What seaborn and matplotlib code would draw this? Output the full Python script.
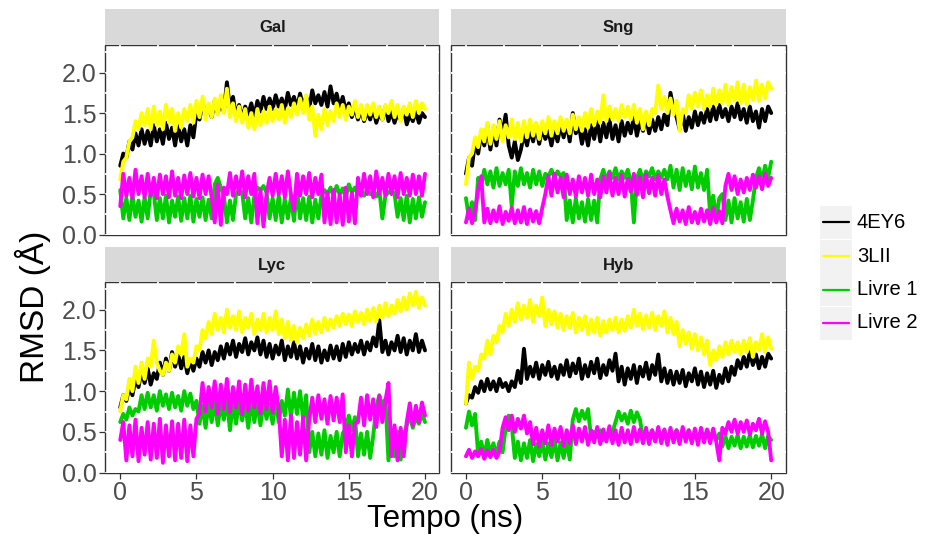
import numpy as np
import pandas as pd
import matplotlib
matplotlib.use("Agg")
import matplotlib.pyplot as plt
import seaborn as sns
from matplotlib.patches import Rectangle
from matplotlib.lines import Line2D

# ---------------------------------------------------------------------
# data (one value every 0.2 ns, 0..20 ns)
# ---------------------------------------------------------------------
tempo = np.linspace(0, 20, 101)

paineis = ["Gal", "Sng", "Lyc", "Hyb"]
estruturas = ["4EY6", "3LII", "Livre 1", "Livre 2"]
cores = ["#000000", "#FFFF00", "#00CC00", "#FF00FF"]

gal_4ey6 = [0.85, 1.00, 0.95, 1.15, 1.05, 1.25, 1.10, 1.30, 1.12, 1.28,
            1.10, 1.35, 1.15, 1.30, 1.12, 1.38, 1.18, 1.32, 1.10, 1.35,
            1.15, 1.30, 1.10, 1.35, 1.20, 1.50, 1.42, 1.62, 1.48, 1.58,
            1.45, 1.65, 1.50, 1.62, 1.52, 1.88, 1.55, 1.70, 1.45, 1.60,
            1.42, 1.58, 1.48, 1.62, 1.45, 1.65, 1.52, 1.70, 1.55, 1.68,
            1.55, 1.72, 1.58, 1.68, 1.55, 1.75, 1.60, 1.70, 1.56, 1.74,
            1.58, 1.70, 1.55, 1.78, 1.62, 1.72, 1.60, 1.76, 1.58, 1.83,
            1.62, 1.74, 1.56, 1.70, 1.52, 1.62, 1.45, 1.58, 1.42, 1.55,
            1.40, 1.52, 1.42, 1.56, 1.38, 1.50, 1.42, 1.58, 1.40, 1.52,
            1.38, 1.50, 1.42, 1.55, 1.36, 1.48, 1.40, 1.52, 1.38, 1.50,
            1.45]
gal_3lii = [0.68, 0.90, 0.95, 1.15, 1.20, 1.40, 1.30, 1.50, 1.35, 1.55,
            1.30, 1.58, 1.35, 1.52, 1.30, 1.60, 1.38, 1.55, 1.28, 1.50,
            1.32, 1.55, 1.40, 1.60, 1.38, 1.65, 1.45, 1.70, 1.42, 1.62,
            1.45, 1.68, 1.48, 1.72, 1.50, 1.80, 1.45, 1.62, 1.40, 1.58,
            1.38, 1.55, 1.32, 1.50, 1.30, 1.55, 1.35, 1.52, 1.38, 1.58,
            1.40, 1.55, 1.42, 1.60, 1.38, 1.56, 1.45, 1.62, 1.48, 1.68,
            1.50, 1.72, 1.42, 1.58, 1.22, 1.48, 1.30, 1.55, 1.35, 1.52,
            1.40, 1.62, 1.45, 1.60, 1.42, 1.58, 1.48, 1.65, 1.45, 1.60,
            1.42, 1.60, 1.48, 1.62, 1.45, 1.58, 1.42, 1.60, 1.50, 1.65,
            1.45, 1.60, 1.40, 1.58, 1.48, 1.62, 1.45, 1.65, 1.50, 1.62,
            1.55]
gal_livre1 = [0.55, 0.20, 0.45, 0.18, 0.48, 0.22, 0.42, 0.16, 0.46, 0.20,
              0.55, 0.52, 0.18, 0.45, 0.20, 0.48, 0.15, 0.42, 0.22, 0.47,
              0.17, 0.45, 0.20, 0.48, 0.16, 0.44, 0.22, 0.46, 0.18, 0.43,
              0.20, 0.62, 0.70, 0.58, 0.48, 0.15, 0.42, 0.18, 0.50, 0.55,
              0.52, 0.20, 0.45, 0.15, 0.48, 0.58, 0.55, 0.60, 0.52, 0.20,
              0.45, 0.18, 0.48, 0.15, 0.44, 0.20, 0.46, 0.17, 0.55, 0.20,
              0.45, 0.18, 0.47, 0.15, 0.43, 0.20, 0.48, 0.55, 0.50, 0.58,
              0.48, 0.60, 0.50, 0.57, 0.46, 0.62, 0.52, 0.58, 0.50, 0.55,
              0.48, 0.55, 0.50, 0.53, 0.47, 0.55, 0.20, 0.48, 0.52, 0.55,
              0.50, 0.22, 0.45, 0.18, 0.48, 0.15, 0.44, 0.20, 0.46, 0.22,
              0.40]
gal_livre2 = [0.35, 0.75, 0.48, 0.70, 0.45, 0.80, 0.50, 0.72, 0.46, 0.75,
              0.48, 0.70, 0.45, 0.74, 0.50, 0.72, 0.46, 0.78, 0.48, 0.70,
              0.45, 0.73, 0.50, 0.76, 0.47, 0.70, 0.45, 0.74, 0.50, 0.72,
              0.46, 0.15, 0.62, 0.12, 0.58, 0.50, 0.76, 0.48, 0.72, 0.50,
              0.78, 0.46, 0.72, 0.50, 0.75, 0.14, 0.55, 0.10, 0.50, 0.70,
              0.48, 0.75, 0.50, 0.72, 0.46, 0.78, 0.50, 0.30, 0.75, 0.48,
              0.72, 0.50, 0.76, 0.46, 0.70, 0.50, 0.74, 0.15, 0.52, 0.13,
              0.55, 0.15, 0.50, 0.12, 0.58, 0.16, 0.52, 0.14, 0.70, 0.48,
              0.75, 0.50, 0.72, 0.46, 0.78, 0.50, 0.70, 0.48, 0.75, 0.50,
              0.72, 0.46, 0.76, 0.50, 0.70, 0.48, 0.74, 0.50, 0.72, 0.48,
              0.75]

sng_4ey6 = [0.75, 0.95, 0.85, 1.15, 1.00, 1.25, 1.10, 1.35, 1.05, 1.30,
            1.10, 1.42, 1.25, 1.48, 1.10, 0.95, 1.15, 0.92, 1.05, 1.25,
            1.10, 1.30, 1.15, 1.35, 1.12, 1.32, 1.18, 1.28, 1.10, 1.30,
            1.15, 1.35, 1.20, 1.38, 1.15, 1.50, 1.25, 1.35, 1.12, 1.30,
            1.10, 1.35, 1.18, 1.40, 1.15, 1.38, 1.20, 1.42, 1.18, 1.35,
            1.15, 1.40, 1.22, 1.38, 1.25, 1.45, 1.22, 1.40, 1.28, 1.45,
            1.25, 1.42, 1.28, 1.45, 1.30, 1.48, 1.35, 1.75, 1.55, 1.45,
            1.30, 1.50, 1.28, 1.45, 1.32, 1.52, 1.35, 1.50, 1.38, 1.55,
            1.40, 1.58, 1.42, 1.60, 1.45, 1.55, 1.40, 1.58, 1.45, 1.62,
            1.42, 1.55, 1.38, 1.58, 1.40, 1.52, 1.32, 1.55, 1.40, 1.58,
            1.50]
sng_3lii = [0.62, 0.95, 1.00, 1.20, 1.08, 1.30, 1.15, 1.38, 1.12, 1.35,
            1.18, 1.40, 1.15, 1.35, 1.20, 1.42, 1.18, 1.38, 1.15, 1.40,
            1.20, 1.42, 1.22, 1.38, 1.18, 1.40, 1.25, 1.45, 1.22, 1.40,
            1.25, 1.45, 1.28, 1.42, 1.25, 1.48, 1.30, 1.45, 1.28, 1.50,
            1.32, 1.55, 1.35, 1.52, 1.38, 1.72, 1.40, 1.58, 1.42, 1.55,
            1.40, 1.60, 1.45, 1.58, 1.42, 1.60, 1.38, 1.55, 1.30, 1.52,
            1.35, 1.55, 1.50, 1.84, 1.55, 1.70, 1.50, 1.68, 1.48, 1.65,
            1.28, 1.55, 1.50, 1.72, 1.55, 1.75, 1.58, 1.78, 1.55, 1.72,
            1.58, 1.80, 1.60, 1.78, 1.62, 1.85, 1.60, 1.82, 1.65, 1.88,
            1.62, 1.85, 1.60, 1.82, 1.66, 1.90, 1.65, 1.85, 1.68, 1.88,
            1.80]
sng_livre1 = [0.45, 0.20, 0.40, 0.18, 0.70, 0.60, 0.80, 0.62, 0.78, 0.58,
              0.82, 0.60, 0.76, 0.62, 0.80, 0.35, 0.78, 0.60, 0.82, 0.62,
              0.76, 0.58, 0.80, 0.62, 0.78, 0.60, 0.75, 0.72, 0.80, 0.70,
              0.78, 0.72, 0.76, 0.18, 0.42, 0.15, 0.45, 0.20, 0.40, 0.16,
              0.44, 0.18, 0.42, 0.15, 0.68, 0.80, 0.66, 0.78, 0.70, 0.82,
              0.68, 0.78, 0.70, 0.80, 0.66, 0.15, 0.70, 0.80, 0.66, 0.78,
              0.72, 0.82, 0.68, 0.78, 0.70, 0.80, 0.68, 0.85, 0.58, 0.80,
              0.55, 0.82, 0.60, 0.78, 0.56, 0.84, 0.58, 0.76, 0.55, 0.80,
              0.25, 0.48, 0.20, 0.45, 0.50, 0.18, 0.42, 0.15, 0.45, 0.20,
              0.40, 0.16, 0.44, 0.18, 0.42, 0.70, 0.82, 0.66, 0.85, 0.70,
              0.90]
sng_livre2 = [0.15, 0.32, 0.14, 0.30, 0.55, 0.72, 0.15, 0.32, 0.14, 0.30,
              0.16, 0.35, 0.13, 0.28, 0.17, 0.33, 0.14, 0.30, 0.15, 0.34,
              0.13, 0.31, 0.16, 0.29, 0.14, 0.33, 0.50, 0.72, 0.48, 0.75,
              0.52, 0.70, 0.46, 0.74, 0.50, 0.68, 0.47, 0.72, 0.52, 0.70,
              0.48, 0.74, 0.50, 0.68, 0.46, 0.72, 0.52, 0.76, 0.48, 0.70,
              0.50, 0.73, 0.47, 0.69, 0.53, 0.75, 0.49, 0.71, 0.46, 0.74,
              0.51, 0.70, 0.48, 0.73, 0.50, 0.68, 0.47, 0.30, 0.14, 0.32,
              0.16, 0.30, 0.13, 0.34, 0.15, 0.28, 0.14, 0.32, 0.16, 0.30,
              0.13, 0.33, 0.15, 0.29, 0.14, 0.60, 0.75, 0.55, 0.72, 0.50,
              0.68, 0.52, 0.70, 0.55, 0.74, 0.58, 0.72, 0.56, 0.75, 0.60,
              0.70]

lyc_4ey6 = [0.80, 0.95, 0.88, 1.05, 0.95, 1.15, 1.05, 1.25, 1.10, 1.28,
            1.08, 1.22, 1.15, 1.35, 1.20, 1.40, 1.25, 1.48, 1.30, 1.45,
            1.28, 1.42, 1.22, 1.38, 1.25, 1.40, 1.30, 1.48, 1.35, 1.50,
            1.32, 1.48, 1.38, 1.55, 1.40, 1.58, 1.45, 1.62, 1.42, 1.58,
            1.48, 1.65, 1.45, 1.60, 1.50, 1.66, 1.45, 1.62, 1.42, 1.58,
            1.40, 1.56, 1.45, 1.62, 1.38, 1.55, 1.42, 1.60, 1.40, 1.55,
            1.35, 1.52, 1.40, 1.58, 1.38, 1.55, 1.35, 1.50, 1.38, 1.56,
            1.40, 1.55, 1.38, 1.58, 1.42, 1.60, 1.45, 1.58, 1.48, 1.62,
            1.45, 1.60, 1.50, 1.66, 1.55, 1.87, 1.48, 1.62, 1.45, 1.60,
            1.50, 1.68, 1.48, 1.65, 1.45, 1.62, 1.50, 1.70, 1.48, 1.62,
            1.50]
lyc_3lii = [0.75, 0.95, 0.90, 1.15, 1.00, 1.30, 1.10, 1.35, 1.15, 1.40,
            1.30, 1.62, 1.35, 1.25, 1.20, 1.35, 1.25, 1.45, 1.35, 1.55,
            1.45, 1.70, 1.30, 1.40, 1.35, 1.55, 1.50, 1.75, 1.65, 1.85,
            1.70, 1.95, 1.75, 1.90, 1.72, 2.00, 1.78, 1.92, 1.75, 1.98,
            1.72, 1.90, 1.78, 1.95, 1.70, 1.88, 1.75, 1.95, 1.72, 1.90,
            1.75, 1.98, 1.70, 1.88, 1.65, 1.85, 1.62, 1.80, 1.60, 1.78,
            1.65, 1.82, 1.68, 1.88, 1.70, 1.85, 1.72, 1.90, 1.75, 1.88,
            1.78, 1.92, 1.80, 1.95, 1.82, 1.94, 1.80, 1.98, 1.85, 1.96,
            1.82, 2.00, 1.86, 2.02, 1.85, 2.05, 1.90, 2.08, 1.92, 2.05,
            1.95, 2.12, 1.98, 2.15, 2.00, 2.20, 2.05, 2.22, 2.02, 2.15,
            2.05]
lyc_livre1 = [0.62, 0.72, 0.65, 0.80, 0.70, 0.78, 0.75, 0.95, 0.78, 0.98,
              0.80, 0.95, 0.76, 1.00, 0.82, 0.96, 0.78, 0.98, 0.80, 0.94,
              0.76, 1.00, 0.82, 0.97, 0.78, 0.88, 0.60, 0.82, 0.55, 0.85,
              0.62, 0.88, 0.58, 0.84, 0.65, 0.90, 0.52, 0.86, 0.60, 0.88,
              0.64, 0.85, 0.55, 0.90, 0.62, 0.86, 0.58, 0.88, 0.66, 0.84,
              0.60, 0.90, 0.62, 0.88, 0.70, 1.02, 0.68, 0.98, 0.72, 1.00,
              0.66, 0.95, 0.25, 0.50, 0.20, 0.48, 0.22, 0.52, 0.18, 0.45,
              0.25, 0.50, 0.20, 0.48, 0.55, 0.70, 0.52, 0.68, 0.20, 0.48,
              0.22, 0.50, 0.18, 0.45, 0.80, 0.95, 0.82, 0.90, 0.15, 0.48,
              0.20, 0.50, 0.16, 0.45, 0.58, 0.70, 0.55, 0.68, 0.60, 0.72,
              0.62]
lyc_livre2 = [0.40, 0.62, 0.15, 0.58, 0.20, 0.65, 0.14, 0.55, 0.22, 0.62,
              0.16, 0.60, 0.18, 0.66, 0.12, 0.58, 0.20, 0.63, 0.15, 0.60,
              0.18, 0.65, 0.14, 0.58, 0.20, 0.66, 0.72, 1.10, 0.75, 1.05,
              0.80, 1.12, 0.72, 1.08, 0.78, 1.15, 0.74, 1.05, 0.80, 1.12,
              0.72, 1.08, 0.76, 1.14, 0.80, 1.06, 0.73, 1.10, 0.78, 1.12,
              0.74, 1.05, 0.78, 0.20, 0.65, 0.15, 0.70, 0.18, 0.62, 0.22,
              0.68, 0.15, 0.65, 0.92, 0.62, 0.95, 0.66, 0.90, 0.60, 0.94,
              0.64, 0.92, 0.62, 0.96, 0.25, 0.58, 0.20, 0.60, 0.62, 0.92,
              0.58, 0.95, 0.65, 0.90, 0.56, 0.94, 0.62, 0.88, 1.10, 0.20,
              0.58, 0.15, 0.55, 0.20, 0.62, 0.85, 0.58, 0.82, 0.62, 0.86,
              0.70]

hyb_4ey6 = [0.85, 0.95, 0.92, 1.05, 0.98, 1.12, 1.00, 1.15, 1.02, 1.12,
            1.00, 1.15, 1.05, 1.10, 1.00, 1.12, 1.05, 1.25, 1.10, 1.52,
            1.15, 1.30, 1.18, 1.35, 1.15, 1.32, 1.20, 1.36, 1.18, 1.30,
            1.15, 1.32, 1.20, 1.38, 1.18, 1.34, 1.22, 1.40, 1.15, 1.32,
            1.18, 1.36, 1.22, 1.40, 1.16, 1.32, 1.20, 1.38, 1.25, 1.46,
            1.12, 1.30, 1.08, 1.28, 1.15, 1.32, 1.10, 1.30, 1.18, 1.35,
            1.15, 1.32, 1.20, 1.45, 1.12, 1.28, 1.10, 1.25, 1.08, 1.24,
            1.10, 1.26, 1.06, 1.22, 1.12, 1.28, 1.08, 1.24, 1.05, 1.22,
            1.08, 1.25, 1.04, 1.20, 1.10, 1.28, 1.12, 1.30, 1.20, 1.38,
            1.28, 1.42, 1.30, 1.48, 1.32, 1.45, 1.28, 1.42, 1.30, 1.46,
            1.40]
hyb_3lii = [0.85, 1.35, 1.15, 1.30, 1.25, 1.45, 1.40, 1.62, 1.45, 1.68,
            1.60, 1.80, 1.72, 1.95, 1.80, 2.00, 1.85, 2.08, 1.88, 2.05,
            1.90, 2.12, 1.85, 2.05, 1.92, 2.15, 1.80, 2.00, 1.82, 1.98,
            1.78, 1.95, 1.75, 1.92, 1.78, 1.96, 1.72, 1.90, 1.75, 1.92,
            1.70, 1.88, 1.72, 1.90, 1.68, 1.86, 1.72, 1.88, 1.75, 1.90,
            1.72, 1.88, 1.74, 1.92, 1.78, 2.00, 1.80, 1.95, 1.76, 1.93,
            1.78, 1.96, 1.75, 1.92, 1.80, 1.98, 1.72, 1.90, 1.70, 1.85,
            1.55, 1.75, 1.58, 1.72, 1.52, 1.70, 1.50, 1.66, 1.45, 1.62,
            1.32, 1.50, 1.38, 1.55, 1.42, 1.60, 1.45, 1.62, 1.48, 1.60,
            1.45, 1.62, 1.48, 1.65, 1.42, 1.60, 1.50, 1.70, 1.48, 1.66,
            1.52]
hyb_livre1 = [0.55, 0.75, 0.58, 0.72, 0.22, 0.38, 0.20, 0.40, 0.24, 0.36,
              0.21, 0.38, 0.25, 0.55, 0.70, 0.58, 0.18, 0.38, 0.15, 0.36,
              0.18, 0.40, 0.14, 0.35, 0.20, 0.38, 0.16, 0.36, 0.19, 0.40,
              0.15, 0.37, 0.18, 0.39, 0.16, 0.65, 0.78, 0.63, 0.76, 0.66,
              0.78, 0.42, 0.50, 0.44, 0.52, 0.40, 0.48, 0.45, 0.50, 0.62,
              0.75, 0.64, 0.72, 0.60, 0.76, 0.62, 0.74, 0.65, 0.42, 0.50,
              0.44, 0.52, 0.40, 0.48, 0.45, 0.52, 0.42, 0.50, 0.46, 0.52,
              0.42, 0.50, 0.44, 0.52, 0.40, 0.48, 0.45, 0.50, 0.42, 0.52,
              0.44, 0.50, 0.40, 0.48, 0.32, 0.45, 0.30, 0.44, 0.33, 0.46,
              0.30, 0.44, 0.32, 0.46, 0.31, 0.45, 0.33, 0.47, 0.30, 0.45,
              0.40]
hyb_livre2 = [0.20, 0.28, 0.18, 0.26, 0.20, 0.29, 0.17, 0.27, 0.19, 0.28,
              0.18, 0.26, 0.55, 0.68, 0.52, 0.70, 0.50, 0.66, 0.54, 0.70,
              0.48, 0.62, 0.35, 0.55, 0.32, 0.52, 0.36, 0.58, 0.34, 0.54,
              0.38, 0.56, 0.33, 0.52, 0.36, 0.58, 0.35, 0.54, 0.38, 0.56,
              0.34, 0.52, 0.37, 0.56, 0.35, 0.53, 0.38, 0.57, 0.36, 0.52,
              0.34, 0.55, 0.37, 0.52, 0.35, 0.56, 0.38, 0.53, 0.36, 0.55,
              0.35, 0.52, 0.38, 0.56, 0.36, 0.53, 0.34, 0.55, 0.37, 0.52,
              0.35, 0.56, 0.38, 0.52, 0.36, 0.54, 0.34, 0.55, 0.37, 0.53,
              0.36, 0.54, 0.38, 0.15, 0.55, 0.48, 0.62, 0.50, 0.65, 0.48,
              0.62, 0.50, 0.64, 0.47, 0.60, 0.52, 0.66, 0.48, 0.63, 0.50,
              0.15]

series = {
    "Gal": [gal_4ey6, gal_3lii, gal_livre1, gal_livre2],
    "Sng": [sng_4ey6, sng_3lii, sng_livre1, sng_livre2],
    "Lyc": [lyc_4ey6, lyc_3lii, lyc_livre1, lyc_livre2],
    "Hyb": [hyb_4ey6, hyb_3lii, hyb_livre1, hyb_livre2],
}

rows = []
for painel in paineis:
    for nome, valores in zip(estruturas, series[painel]):
        for t, v in zip(tempo, valores):
            rows.append((painel, nome, t, v))
df = pd.DataFrame(rows, columns=["Sistema", "Estrutura", "Tempo", "RMSD"])

# ---------------------------------------------------------------------
# figure
# ---------------------------------------------------------------------
sns.set_theme(style="white")
plt.rcParams["font.family"] = ["Liberation Sans", "DejaVu Sans"]

W, H = 928, 541
fig = plt.figure(figsize=(W / 100, H / 100), dpi=100)

def fbox(x0, y0, x1, y1):
    # pixel box (top-left origin) -> figure fraction rect
    return [x0 / W, 1 - y1 / H, (x1 - x0) / W, (y1 - y0) / H]

cols_x = [(105, 439.5), (450.7, 785.7)]
rows_y = [((9.3, 45), (45, 235)), ((247, 282), (282, 473))]

for i, painel in enumerate(paineis):
    r, c = divmod(i, 2)
    x0, x1 = cols_x[c]
    (sy0, sy1), (py0, py1) = rows_y[r]

    ax = fig.add_axes(fbox(x0, py0, x1, py1))
    sub = df[df["Sistema"] == painel]
    # thick strokes so the noisy traces read as solid bands
    sns.lineplot(data=sub, x="Tempo", y="RMSD", hue="Estrutura",
                 hue_order=estruturas, palette=cores, estimator=None,
                 sort=False, linewidth=2.8, ax=ax, legend=False)

    ax.set_xlim(-1, 20.95)
    ax.set_ylim(-0.005, 2.34)
    ax.set_xticks([0, 5, 10, 15, 20])
    ax.set_yticks([0.0, 0.5, 1.0, 1.5, 2.0])
    ax.set_xticks([2.5, 7.5, 12.5, 17.5], minor=True)
    ax.set_yticks([0.25, 0.75, 1.25, 1.75, 2.25], minor=True)
    ax.set_yticklabels(["0.0", "0.5", "1.0", "1.5", "2.0"])
    ax.set_xlabel("")
    ax.set_ylabel("")

    # ggplot-like panel: border on the background, white grid over it
    for s in ax.spines.values():
        s.set_visible(False)
    ax.patch.set_facecolor("white")
    ax.patch.set_edgecolor("#333333")
    ax.patch.set_linewidth(1.0)
    ax.set_axisbelow(True)
    ax.grid(True, which="both", color="white", linewidth=1.3)

    ax.tick_params(axis="both", which="major", length=4, width=0.9,
                   color="#333333", labelsize=18, labelcolor="#4d4d4d",
                   pad=2, direction="out")
    ax.tick_params(which="minor", length=0)
    ax.tick_params(axis="x", bottom=(r == 1), labelbottom=(r == 1))
    ax.tick_params(axis="y", left=(c == 0), labelleft=(c == 0))

    # strip
    sax = fig.add_axes(fbox(x0, sy0, x1, sy1))
    sax.set_facecolor("#d9d9d9")
    sax.set_xticks([])
    sax.set_yticks([])
    for s in sax.spines.values():
        s.set_visible(False)
    sax.text(0.5, 0.48, painel, ha="center", va="center", fontsize=12,
             fontweight="bold", color="#1a1a1a", transform=sax.transAxes)

fig.text(445 / W, 1 - 519 / H, "Tempo (ns)", ha="center", va="center",
         fontsize=22.5, color="black")
fig.text(33 / W, 1 - 307 / H, "RMSD (Å)", ha="center", va="center",
         rotation=90, fontsize=24, color="black")

# legend: grey key boxes, short line, label
lax = fig.add_axes([0, 0, 1, 1])
lax.set_xlim(0, W)
lax.set_ylim(H, 0)
lax.axis("off")
lax.patch.set_alpha(0)
key_y = [222, 256, 289.5, 323]
for nome, cor, ky in zip(estruturas, cores, key_y):
    lax.add_patch(Rectangle((820, ky - 16.5), 32, 33, facecolor="#f2f2f2",
                            edgecolor="none"))
    lax.add_line(Line2D([823, 849], [ky, ky], color=cor, linewidth=1.6))
    lax.text(857, ky, nome, ha="left", va="center", fontsize=14.5,
             color="black")

fig.savefig("out.png", dpi=100)
